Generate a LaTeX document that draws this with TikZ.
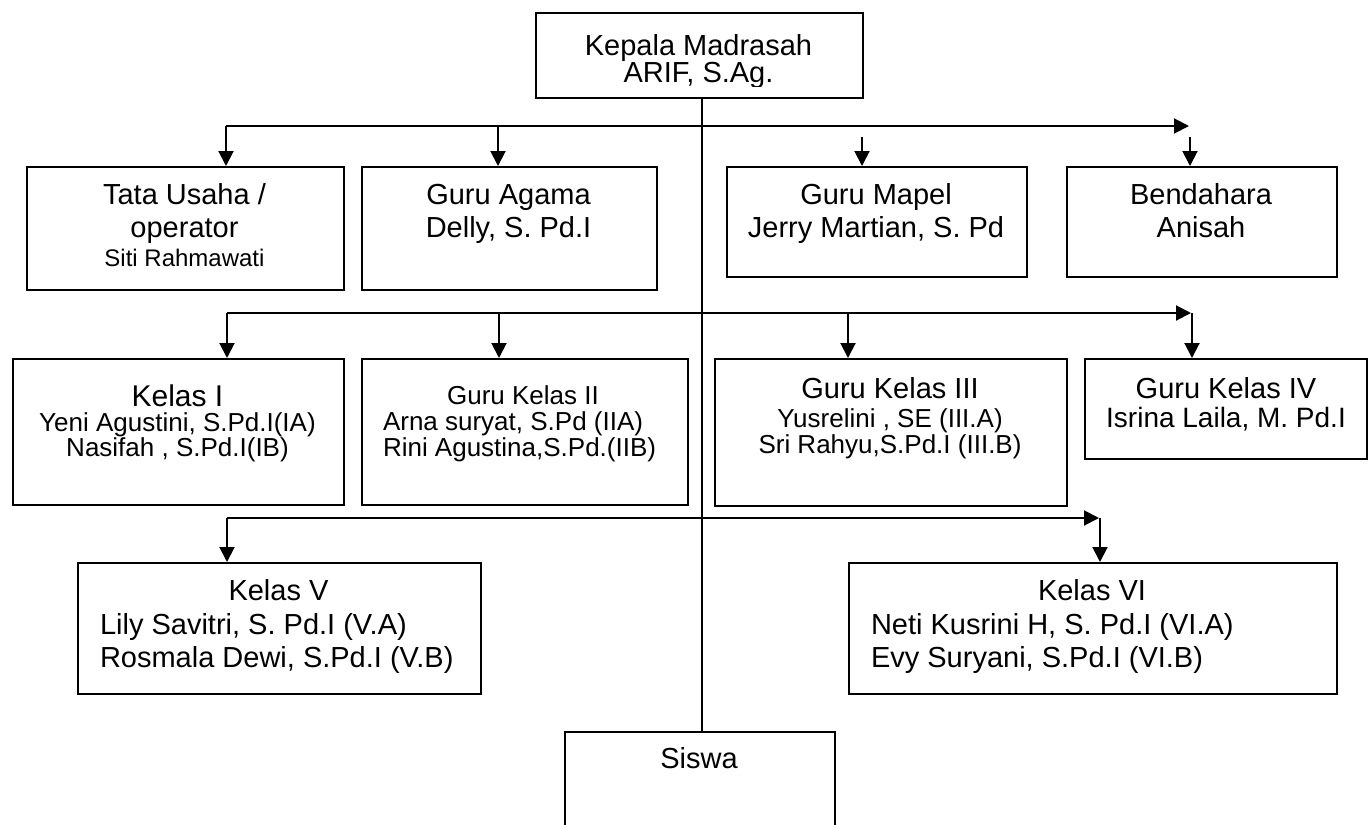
\documentclass[tikz,border=0pt]{standalone}
\usepackage{fontspec}
\setmainfont{Liberation Sans}
\usetikzlibrary{arrows.meta}
\newcommand{\myfs}[1]{\fontsize{#1pt}{#1pt}\selectfont}
\begin{document}
\begin{tikzpicture}[x=1pt, y=-1pt, line width=2pt,
  box/.style={draw, line width=2pt, inner sep=0pt, anchor=north west},
  tc/.style={inner sep=0pt, anchor=base},
  tl/.style={inner sep=0pt, anchor=base west},
  arr/.style={line width=2pt, -{Triangle[length=15pt,width=15pt]}},
  ln/.style={line width=2pt}]
\fill[white] (0,0) rectangle (1369,825);
\useasboundingbox (0,0) rectangle (1369,825);
\clip (0,0) rectangle (1369,825);
% boxes
\node[box, minimum width=327pt, minimum height=85pt] (km) at (535,12) {};
\node[box, minimum width=317pt, minimum height=123pt] (tu) at (26,166) {};
\node[box, minimum width=295pt, minimum height=123pt] (ga) at (361,166) {};
\node[box, minimum width=300pt, minimum height=110pt] (gm) at (726,166) {};
\node[box, minimum width=270pt, minimum height=110pt] (bd) at (1066,166) {};
\node[box, minimum width=331pt, minimum height=146pt] (k1) at (12,358) {};
\node[box, minimum width=326pt, minimum height=146pt] (k2) at (361,358) {};
\node[box, minimum width=352pt, minimum height=147pt] (k3) at (714,358) {};
\node[box, minimum width=282pt, minimum height=100pt] (k4) at (1084,358) {};
\node[box, minimum width=403pt, minimum height=131pt] (k5) at (77,562) {};
\node[box, minimum width=488pt, minimum height=131pt] (k6) at (848,562) {};
\node[box, minimum width=270pt, minimum height=130pt] (sw) at (564,731) {};
% texts
\node[tc, font=\myfs{29}] (kmA) at (698.5,55) {Kepala Madrasah};
\begin{scope}
\clip (540,60) rectangle (860,86);
\node[tc, font=\myfs{29}] (kmB) at (698.5,82) {ARIF, S.Ag.};
\end{scope}
\node[tc, font=\myfs{29}] (tuA) at (184.5,204) {Tata Usaha /};
\node[tc, font=\myfs{29}] (tuB) at (184.5,237) {operator};
\node[tc, font=\myfs{24}] (tuC) at (184.5,266) {Siti Rahmawati};
\node[tc, font=\myfs{29}] (gaA) at (508.5,204) {Guru Agama};
\node[tc, font=\myfs{29}] (gaB) at (508.5,237) {Delly, S. Pd.I};
\node[tc, font=\myfs{29}] (gmA) at (876,204) {Guru Mapel};
\node[tc, font=\myfs{29}] (gmB) at (876,237) {Jerry Martian, S. Pd};
\node[tc, font=\myfs{29}] (bdA) at (1201,204) {Bendahara};
\node[tc, font=\myfs{29}] (bdB) at (1201,237) {Anisah};
\node[tc, font=\myfs{30}] (k1A) at (177.5,406) {Kelas I};
\node[tc, font=\myfs{26}] (k1B) at (177.5,431) {Yeni Agustini, S.Pd.I(IA)};
\node[tc, font=\myfs{26}] (k1C) at (177.5,456) {Nasifah , S.Pd.I(IB)};
\node[tc, font=\myfs{26}] (k2A) at (523,404) {Guru Kelas II};
\node[tl, font=\myfs{26}] (k2B) at (382,430) {Arna suryat, S.Pd (IIA)};
\node[tl, font=\myfs{26}] (k2C) at (382,456) {Rini Agustina,S.Pd.(IIB)};
\node[tc, font=\myfs{29}] (k3A) at (890,398) {Guru Kelas III};
\node[tc, font=\myfs{26}] (k3B) at (890,427) {Yusrelini , SE (III.A)};
\node[tc, font=\myfs{26}] (k3C) at (890,453) {Sri Rahyu,S.Pd.I (III.B)};
\node[tc, font=\myfs{29}] (k4A) at (1226,398) {Guru Kelas IV};
\node[tc, font=\myfs{28}] (k4B) at (1226,427) {Isrina Laila, M. Pd.I};
\node[tc, font=\myfs{29}] (k5A) at (278.5,600) {Kelas V};
\node[tl, font=\myfs{29}] (k5B) at (99,634) {Lily Savitri, S. Pd.I (V.A)};
\node[tl, font=\myfs{29}] (k5C) at (99,667) {Rosmala Dewi, S.Pd.I (V.B)};
\node[tc, font=\myfs{29}] (k6A) at (1092,600) {Kelas VI};
\node[tl, font=\myfs{29}] (k6B) at (870,634) {Neti Kusrini H, S. Pd.I (VI.A)};
\node[tl, font=\myfs{29}] (k6C) at (870,667) {Evy Suryani, S.Pd.I (VI.B)};
\node[tc, font=\myfs{29}] (swA) at (699,768) {Siswa};
% trunk
\coordinate (tr) at (702,0);
\draw[ln] (km.south -| tr) -- (sw.north -| tr);
% row 1
\coordinate (r1L) at (226,126);
\coordinate (r1R) at (1189,126);
\coordinate (r1a) at (498,126);
\coordinate (r1c) at (862,137);
\coordinate (r1d) at (1190,137);
\draw[arr] (r1L) -- (r1R);
\draw[arr] (r1L) -- (r1L |- tu.north);
\draw[arr] (r1a) -- (r1a |- ga.north);
\draw[arr] (r1c) -- (r1c |- gm.north);
\draw[arr] (r1d) -- (r1d |- bd.north);
% row 2
\coordinate (r2L) at (227,313);
\coordinate (r2R) at (1191,313);
\coordinate (r2a) at (499,313);
\coordinate (r2b) at (848,313);
\coordinate (r2c) at (1192,313);
\draw[arr] (r2L) -- (r2R);
\draw[arr] (r2L) -- (r2L |- k1.north);
\draw[arr] (r2a) -- (r2a |- k2.north);
\draw[arr] (r2b) -- (r2b |- k3.north);
\draw[arr] (r2c) -- (r2c |- k4.north);
% row 3
\coordinate (r3L) at (227,518);
\coordinate (r3R) at (1099,518);
\coordinate (r3b) at (1100,518);
\draw[arr] (r3L) -- (r3R);
\draw[arr] (r3L) -- (r3L |- k5.north);
\draw[arr] (r3b) -- (r3b |- k6.north);
\end{tikzpicture}
\end{document}
